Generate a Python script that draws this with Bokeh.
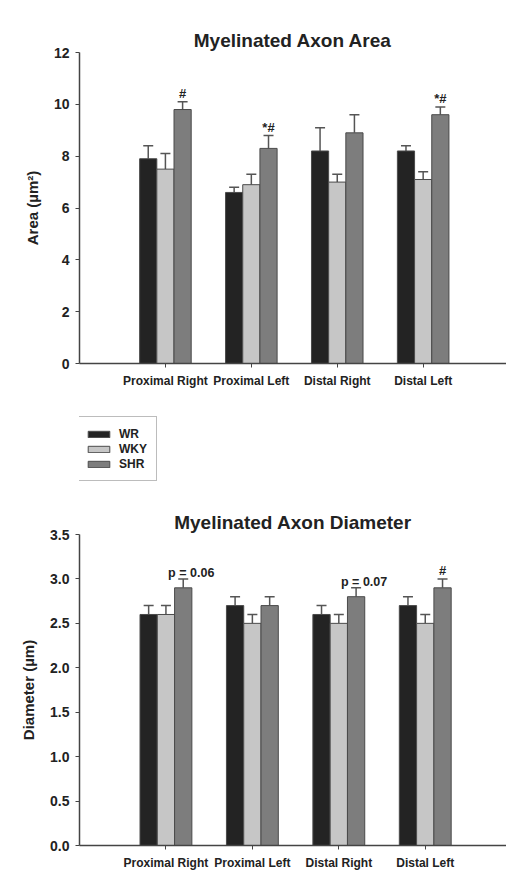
from bokeh.plotting import figure
from bokeh.models import (ColumnDataSource, Whisker, TeeHead, FixedTicker, Legend,
                          LegendItem, Range1d, PrintfTickFormatter, Title, LinearAxis)
from bokeh.layouts import column
from bokeh.embed import file_html
from bokeh.resources import INLINE
from bokeh.core.properties import value

# ---------------- data ----------------
categories = ["Proximal Right", "Proximal Left", "Distal Right", "Distal Left"]
groups = ["WR", "WKY", "SHR"]

area_wr = [7.9, 6.6, 8.2, 8.2]
area_wky = [7.5, 6.9, 7.0, 7.1]
area_shr = [9.8, 8.3, 8.9, 9.6]
area_wr_err = [0.5, 0.2, 0.9, 0.2]
area_wky_err = [0.6, 0.4, 0.3, 0.3]
area_shr_err = [0.3, 0.5, 0.7, 0.3]
area_marks = ["#", "*#", "", "*#"]
area_ticks = [0, 2, 4, 6, 8, 10, 12]

diam_wr = [2.6, 2.7, 2.6, 2.7]
diam_wky = [2.6, 2.5, 2.5, 2.5]
diam_shr = [2.9, 2.7, 2.8, 2.9]
diam_wr_err = [0.1, 0.1, 0.1, 0.1]
diam_wky_err = [0.1, 0.1, 0.1, 0.1]
diam_shr_err = [0.1, 0.1, 0.1, 0.1]
diam_marks = ["p = 0.06", "", "p = 0.07", "#"]
diam_ticks = [0.0, 0.5, 1.0, 1.5, 2.0, 2.5, 3.0, 3.5]

# ---------------- style ----------------
FONT = "Liberation Sans"
FILLS = ["#232323", "#c6c6c6", "#7d7d7d"]
OUTLINE = "#4a4a4a"
AXIS = "#444444"
TEXT = "#222222"
OFFSETS = [-0.2, 0.0, 0.2]
BAR_W = 0.2
W = 506


def make_chart(title, ylabel, means, errs, marks, yticks, yfmt, height,
               left, top, bottom, x_end):
    p = figure(width=W, height=height, output_backend="svg", toolbar_location=None,
               x_range=Range1d(0, x_end), y_range=Range1d(0, yticks[-1]),
               min_border_left=left, min_border_top=top, min_border_bottom=bottom,
               min_border_right=0, title_location=None)
    xa = p.below[0]
    ya = p.left[0]
    # empty, invisible top axis used only as a spacer between frame and title
    spacer = LinearAxis(ticker=FixedTicker(ticks=[]), major_tick_out=23, major_tick_in=0,
                        major_label_standoff=0, axis_line_color=None,
                        major_tick_line_color=None, minor_tick_line_color=None,
                        major_label_text_alpha=0)
    p.add_layout(spacer, "above")
    p.add_layout(Title(text=title, text_font=FONT, text_font_size="19px",
                       text_font_style="bold", text_color=TEXT, align="center",
                       offset=3, standoff=4), "above")
    p.outline_line_color = None
    p.xgrid.visible = False
    p.ygrid.visible = False

    renderers = []
    for gi, g in enumerate(groups):
        xs = [i + 1 + OFFSETS[gi] for i in range(len(categories))]
        src = ColumnDataSource(dict(x=xs, top=means[gi],
                                    upper=[m + e for m, e in zip(means[gi], errs[gi])],
                                    lower=means[gi]))
        r = p.vbar(x="x", top="top", width=BAR_W, bottom=0, source=src,
                   fill_color=FILLS[gi], line_color=OUTLINE, line_width=1)
        renderers.append(r)
        w = Whisker(source=src, base="x", upper="upper", lower="lower",
                    line_color="#555555", line_width=1.5, lower_head=None,
                    upper_head=TeeHead(size=10, line_color="#555555", line_width=1.5))
        p.add_layout(w)

    # significance marks above the SHR bars
    shr_tops = [m + e for m, e in zip(means[2], errs[2])]
    for i, mk in enumerate(marks):
        if not mk:
            continue
        is_p = mk.startswith("p")
        p.text(x=[i + 1 + OFFSETS[2]], y=[shr_tops[i]], text=[mk],
               text_font=value(FONT), text_font_size="12.5px" if is_p else "13px",
               text_font_style="bold",
               text_color=TEXT, text_align="center", text_baseline="alphabetic",
               x_offset=8 if is_p else 0, y_offset=-6 if is_p else -8)

    xa.ticker = FixedTicker(ticks=[i + 1 for i in range(len(categories))])
    xa.major_label_overrides = {i + 1: c for i, c in enumerate(categories)}
    xa.major_label_text_font = FONT
    xa.major_label_text_font_size = "12px"
    xa.major_label_text_font_style = "bold"
    xa.major_label_text_color = TEXT
    xa.major_label_standoff = 6
    xa.minor_tick_line_color = None
    xa.major_tick_in = 0
    xa.major_tick_out = 4
    xa.major_tick_line_color = AXIS
    xa.axis_line_color = AXIS
    xa.axis_line_width = 1.5

    ya.ticker = FixedTicker(ticks=yticks)
    ya.formatter = PrintfTickFormatter(format=yfmt)
    ya.major_label_text_font = FONT
    ya.major_label_text_font_size = "14px"
    ya.major_label_text_font_style = "bold"
    ya.major_label_text_color = TEXT
    ya.major_label_standoff = 6
    ya.minor_tick_line_color = None
    ya.major_tick_in = 0
    ya.major_tick_out = 4
    ya.major_tick_line_color = AXIS
    ya.axis_line_color = AXIS
    ya.axis_line_width = 1.5
    ya.axis_label = ylabel
    ya.axis_label_text_font = FONT
    ya.axis_label_text_font_size = "15px"
    ya.axis_label_text_font_style = "bold"
    ya.axis_label_text_color = TEXT
    ya.axis_label_standoff = 10
    return p, renderers


p1, _ = make_chart("Myelinated Axon Area", "Area (µm²)",
                   [area_wr, area_wky, area_shr],
                   [area_wr_err, area_wky_err, area_shr_err],
                   area_marks, area_ticks, "%d", 395, 77, 52, 32, 4.97)

# legend panel between the two charts
pl = figure(width=W, height=89, output_backend="svg", toolbar_location=None,
            x_range=Range1d(0, 1), y_range=Range1d(0, 1),
            x_axis_location=None, y_axis_location=None,
            min_border_left=0, min_border_right=0,
            min_border_top=0, min_border_bottom=0)
pl.xgrid.visible = False
pl.ygrid.visible = False
pl.outline_line_color = None
leg_rs = []
for gi, g in enumerate(groups):
    # placeholder bars outside the visible range: only their legend swatches show
    leg_rs.append(pl.vbar(x=[5], top=[5], bottom=[4], width=0.1, fill_color=FILLS[gi],
                          line_color=OUTLINE, line_width=1))
legend = Legend(items=[LegendItem(label=g, renderers=[r]) for g, r in zip(groups, leg_rs)],
                location=(-4, 3), orientation="vertical",
                glyph_width=27, glyph_height=8, label_height=15, label_standoff=7,
                spacing=0, padding=9, margin=0,
                border_line_color="#7a7a7a", border_line_width=1,
                background_fill_color="white", background_fill_alpha=1,
                label_text_font=FONT, label_text_font_size="12px",
                label_text_font_style="bold", label_text_color=TEXT)
pl.add_layout(legend)

p2, _ = make_chart("Myelinated Axon Diameter", "Diameter (µm)",
                   [diam_wr, diam_wky, diam_shr],
                   [diam_wr_err, diam_wky_err, diam_shr_err],
                   diam_marks, diam_ticks, "%.1f", 388, 79, 50, 26, 4.94)

layout = column(p1, pl, p2, spacing=0)
open("out.html", "w").write(file_html(layout, INLINE))
